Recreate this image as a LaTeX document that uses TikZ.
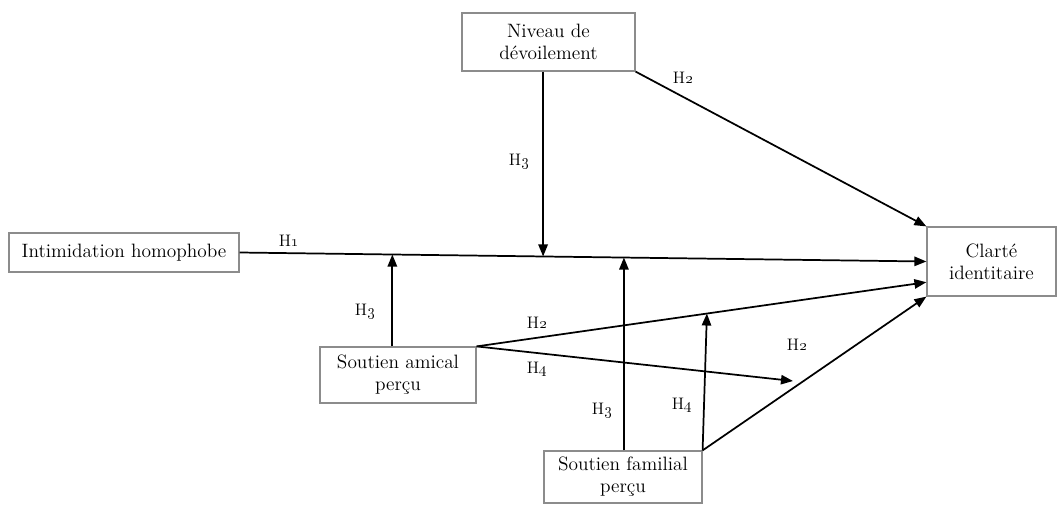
\documentclass[tikz,border=0pt]{standalone}
\usepackage{tikz}
\usetikzlibrary{positioning,arrows.meta,calc}
\definecolor{boxline}{HTML}{8C8C8C}
\newcommand{\hy}[1]{H\oldstylenums{#1}}

\begin{document}
\begin{tikzpicture}[
  x=0.75pt, y=-0.75pt,
  font=\fontsize{14.5}{16.5}\selectfont,
  var/.style={draw=boxline, line width=0.9pt, align=center, inner sep=2pt},
  ar/.style={-{Triangle[length=9pt,width=7pt]}, line width=1.3pt},
  hyp/.style={font=\fontsize{12.5}{14}\selectfont}
]
\useasboundingbox (0,0) rectangle (1058,504);

\node[var, minimum width=129.75pt, minimum height=43.5pt] (niveau) at (548.5,42) {Niveau de\\dévoilement};
\node[var, minimum width=172.5pt, minimum height=29.25pt] (intim) at (124,252.5) {Intimidation homophobe};
\node[var, minimum width=96.75pt, minimum height=51.75pt] (clarte) at (991.5,261.5) {Clarté\\identitaire};
\node[var, minimum width=117pt, minimum height=42pt] (amical) at (398,375) {Soutien amical\\perçu};
\node[var, minimum width=118.5pt, minimum height=39pt] (familial) at (623,477) {Soutien familial\\perçu};

% points where the moderators meet the paths
\coordinate (m1) at ($(intim.east)!0.4419!(clarte.west)$);
\coordinate (m2) at ($(intim.east)!0.2224!(clarte.west)$);
\coordinate (m3) at ($(intim.east)!0.5596!(clarte.west)$);
\coordinate (c2) at ($(clarte.west)!0.59!(clarte.south west)$);
\coordinate (m4) at ($(amical.north east)!0.512!(c2)$);
\coordinate (a4) at (793,381);

\draw[ar] (intim.east) -- (clarte.west);
\draw[ar] (niveau.south -| m1) -- (m1);
\draw[ar] (niveau.south east) -- (clarte.north west);
\draw[ar] (amical.north -| m2) -- (m2);
\draw[ar] (amical.north east) -- (c2);
\draw[ar] (amical.north east) -- (a4);
\draw[ar] (familial.north -| m3) -- (m3);
\draw[ar] (familial.north east) -- (m4);
\draw[ar] (familial.north east) -- (clarte.south west);

\node[hyp] (l1) at (289,241) {\hy1};
\node[hyp] (l2) at (683,78) {\hy2};
\node[hyp] (l3) at (519,161) {\hy3};
\node[hyp] (l4) at (365,311) {\hy3};
\node[hyp] (l5) at (537,323) {\hy2};
\node[hyp] (l6) at (537,369) {\hy4};
\node[hyp] (l7) at (602,410) {\hy3};
\node[hyp] (l8) at (682,405) {\hy4};
\node[hyp] (l9) at (797,345) {\hy2};
\end{tikzpicture}
\end{document}
